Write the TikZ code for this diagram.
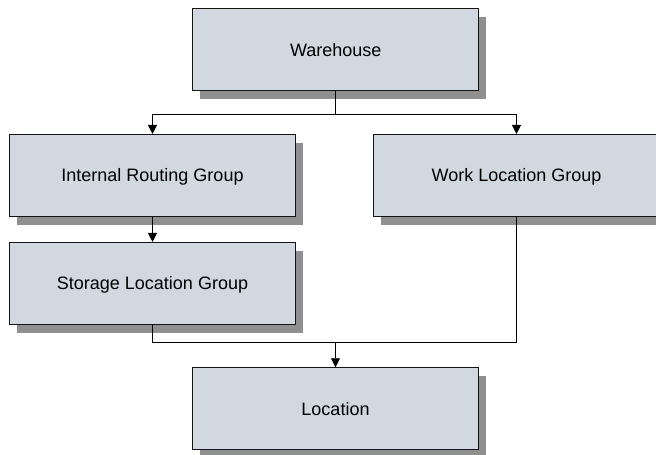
\documentclass[tikz,border=0pt]{standalone}
\usepackage{fontspec}
\setmainfont{Liberation Sans}
\usetikzlibrary{arrows.meta,shadows,calc}
\definecolor{boxfill}{RGB}{209,216,224}
\definecolor{shadowgray}{RGB}{143,143,143}
\definecolor{edgeline}{RGB}{20,20,20}
\tikzset{
  grpbox/.style={draw=edgeline, line width=1.1pt, fill=boxfill,
    minimum width=286pt, minimum height=82pt, inner sep=0pt,
    text height=12.9pt, text depth=0pt,
    font=\fontsize{18}{21}\selectfont,
    drop shadow={shadow xshift=7pt, shadow yshift=-8pt, fill=shadowgray, opacity=1}},
  conn/.style={draw=black, line width=0.9pt},
  arr/.style={-{Triangle[length=9pt,width=9pt]}}
}
\begin{document}
\begin{tikzpicture}[x=1pt,y=-1pt]
  \useasboundingbox[fill=white] (0,0) rectangle (656,455);

  % group boxes
  \node[grpbox] (wh)  at (335.7,49.7)  {Warehouse};
  \node[grpbox] (irg) at (152.5,175.5) {Internal Routing Group};
  \node[grpbox] (wlg) at (516.5,175.5) {Work Location Group};
  \node[grpbox] (slg) at (152.5,283.5) {Storage Location Group};
  \node[grpbox] (loc) at (335.5,408.8) {Location};

  % warehouse splits into the two top groups
  \coordinate (split) at ($(wh.south)+(0,23.3)$);
  \draw[conn] (wh.south) -- (split);
  \draw[conn,arr] (split) -| (irg.north);
  \draw[conn,arr] (split) -| (wlg.north);

  % internal routing to storage
  \draw[conn,arr] (irg.south) -- (slg.north);

  % storage and work location merge into location
  \coordinate (join) at ($(loc.north)+(0,-24.4)$);
  \draw[conn] (slg.south) |- (join) -| (wlg.south);
  \draw[conn,arr] (join) -- (loc.north);
\end{tikzpicture}
\end{document}
